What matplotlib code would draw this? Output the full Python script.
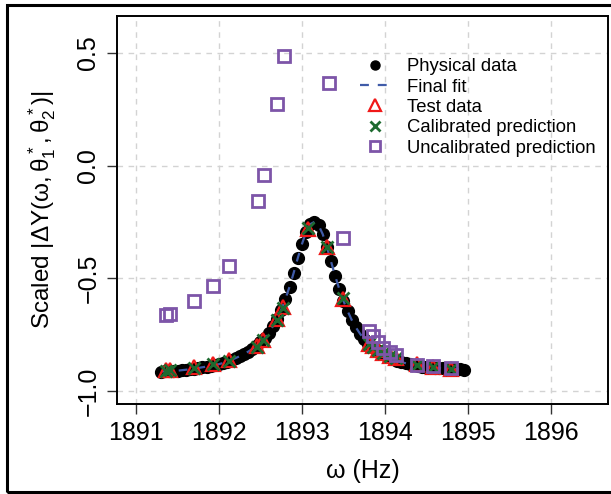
import matplotlib
matplotlib.use("Agg")
import matplotlib.pyplot as plt
from matplotlib.lines import Line2D
from matplotlib.patches import Rectangle
from matplotlib.legend_handler import HandlerLine2D

plt.rcParams['font.family'] = ['Liberation Sans', 'DejaVu Sans']
plt.rcParams['mathtext.fontset'] = 'custom'
plt.rcParams['mathtext.rm'] = 'Liberation Sans'
plt.rcParams['mathtext.it'] = 'Liberation Sans'

# Physical data (0.05 Hz steps)
phys_freq = [1891.30 + 0.05 * i for i in range(74)]
phys_vals = [
    -0.914, -0.913, -0.912, -0.911, -0.910, -0.908, -0.906, -0.904, -0.901, -0.898,
    -0.895, -0.892, -0.889, -0.886, -0.881, -0.876, -0.870, -0.862, -0.854, -0.846,
    -0.837, -0.826, -0.814, -0.800, -0.784, -0.765, -0.742, -0.713, -0.680, -0.640,
    -0.592, -0.538, -0.476, -0.410, -0.348, -0.295, -0.260, -0.250, -0.264, -0.304,
    -0.361, -0.425, -0.489, -0.548, -0.600, -0.645, -0.685, -0.718, -0.746, -0.770,
    -0.790, -0.806, -0.820, -0.832, -0.842, -0.851, -0.859, -0.866, -0.872, -0.877,
    -0.882, -0.886, -0.889, -0.892, -0.894, -0.896, -0.898, -0.899, -0.900, -0.901,
    -0.902, -0.903, -0.904, -0.905,
]
# Final fit follows the physical data
fit_freq = phys_freq
fit_vals = phys_vals

# Test data and calibrated prediction
test_freq = [1891.36, 1891.41, 1891.70, 1891.93, 1892.12, 1892.46, 1892.53, 1892.70,
             1892.77, 1893.07, 1893.30, 1893.49, 1893.81, 1893.86, 1893.92, 1893.98,
             1894.06, 1894.13, 1894.39, 1894.58, 1894.80]
test_vals = [-0.908, -0.906, -0.895, -0.880, -0.864, -0.802, -0.772, -0.682, -0.628,
             -0.280, -0.360, -0.590, -0.790, -0.802, -0.818, -0.830, -0.843, -0.853,
             -0.882, -0.893, -0.901]
calib_vals = [-0.910, -0.907, -0.897, -0.882, -0.866, -0.805, -0.775, -0.684, -0.630,
              -0.276, -0.360, -0.588, -0.792, -0.805, -0.820, -0.832, -0.845, -0.855,
              -0.884, -0.895, -0.902]

# Uncalibrated prediction (points near the peak fall outside the plot)
uncal_freq = [1891.36, 1891.41, 1891.70, 1891.93, 1892.12, 1892.47, 1892.54, 1892.70,
              1892.78, 1893.49, 1893.81, 1893.86, 1893.92, 1893.98, 1894.06,
              1894.13, 1894.39, 1894.58, 1894.80]
uncal_vals = [-0.665, -0.660, -0.600, -0.533, -0.444, -0.156, -0.040, 0.275, 0.487,
              -0.322, -0.735, -0.755, -0.785, -0.808, -0.828, -0.842, -0.884,
              -0.891, -0.897]

xticks = [1891, 1892, 1893, 1894, 1895, 1896]
yticks = [-1.0, -0.5, 0.0, 0.5]

purple = '#7D55A8'
red = '#F01818'
green = '#1E6B30'
blue = '#3F5BA8'


class FitHandler(HandlerLine2D):
    # R legend quirk: a stray square sits left of the "Final fit" key
    def create_artists(self, legend, orig_handle, xdescent, ydescent,
                       width, height, fontsize, trans):
        arts = super().create_artists(legend, orig_handle, xdescent, ydescent,
                                      width, height, fontsize, trans)
        sq = Line2D([-xdescent + width / 2 - 33], [height / 2 - ydescent + 1.5],
                    marker='s', markersize=8, markerfacecolor='none',
                    markeredgecolor=purple, markeredgewidth=2.0,
                    linestyle='none', transform=trans)
        return list(arts) + [sq]


fig = plt.figure(figsize=(6.11, 4.94), dpi=100)
ax = fig.add_axes([117 / 611, 90 / 494, 491 / 611, 388 / 494])

ax.plot(phys_freq, phys_vals, 'o', color='black', markersize=8.5, zorder=3)
ax.plot(fit_freq, fit_vals, '--', color=blue, lw=1.6, dashes=(4, 4), zorder=4)
ax.plot(test_freq, test_vals, '^', markerfacecolor='none', markeredgecolor=red,
        markersize=9.5, markeredgewidth=1.6, zorder=5)
ax.plot(test_freq, calib_vals, 'x', color=green, markersize=8.5,
        markeredgewidth=2.0, zorder=6)
ax.plot(uncal_freq, uncal_vals, 's', markerfacecolor='none', markeredgecolor=purple,
        markersize=9, markeredgewidth=2.0, zorder=7)

ax.set_xlim(1890.77, 1896.69)
ax.set_ylim(-1.058, 0.664)
ax.set_xticks(xticks)
ax.set_yticks(yticks)
ax.set_xticklabels([str(t) for t in xticks])
ax.set_yticklabels(['\u22121.0', '\u22120.5', '0.0', '0.5'], rotation=90, va='center')
ax.tick_params(axis='both', labelsize=18, length=7, width=1.0, color='#333333')
ax.tick_params(axis='x', pad=5)
ax.tick_params(axis='y', pad=5)
ax.grid(True, color='#D3D3D3', linestyle=(0, (4, 4)), lw=1.0)
ax.set_axisbelow(True)
for s in ax.spines.values():
    s.set_linewidth(1.4)

ax.set_xlabel('\u03c9 (Hz)', fontsize=18, labelpad=10)
ax.set_ylabel(r'Scaled $|\Delta \mathrm{Y}(\omega,\theta_1^*,\theta_2^*)|$',
              fontsize=17.5, labelpad=13)

h_phys = Line2D([], [], marker='o', color='black', linestyle='none', markersize=6.5)
h_fit = Line2D([], [], color=blue, linestyle='--', dashes=(4, 4), lw=1.6)
h_test = Line2D([], [], marker='^', markerfacecolor='none', markeredgecolor=red,
                linestyle='none', markersize=8, markeredgewidth=1.6)
h_cal = Line2D([], [], marker='x', color=green, linestyle='none', markersize=7,
               markeredgewidth=2.0)
h_unc = Line2D([], [], marker='s', markerfacecolor='none', markeredgecolor=purple,
               linestyle='none', markersize=7, markeredgewidth=2.0)
ax.legend([h_phys, h_fit, h_test, h_cal, h_unc],
          ['Physical data', 'Final fit', 'Test data', 'Calibrated prediction',
           'Uncalibrated prediction'],
          handler_map={h_fit: FitHandler()},
          loc='upper left', bbox_to_anchor=(0.4795, 0.91), frameon=False,
          fontsize=13.3, handlelength=1.6, handletextpad=0.98,
          labelspacing=0.18, borderaxespad=0)

# outer frame around the whole figure
fig.patches.append(Rectangle((7 / 611, 2 / 494), 1.2, 487 / 494, transform=fig.transFigure,
                             fill=False, edgecolor='black', lw=2.2, clip_on=False))

fig.savefig('out.png', dpi=100)
